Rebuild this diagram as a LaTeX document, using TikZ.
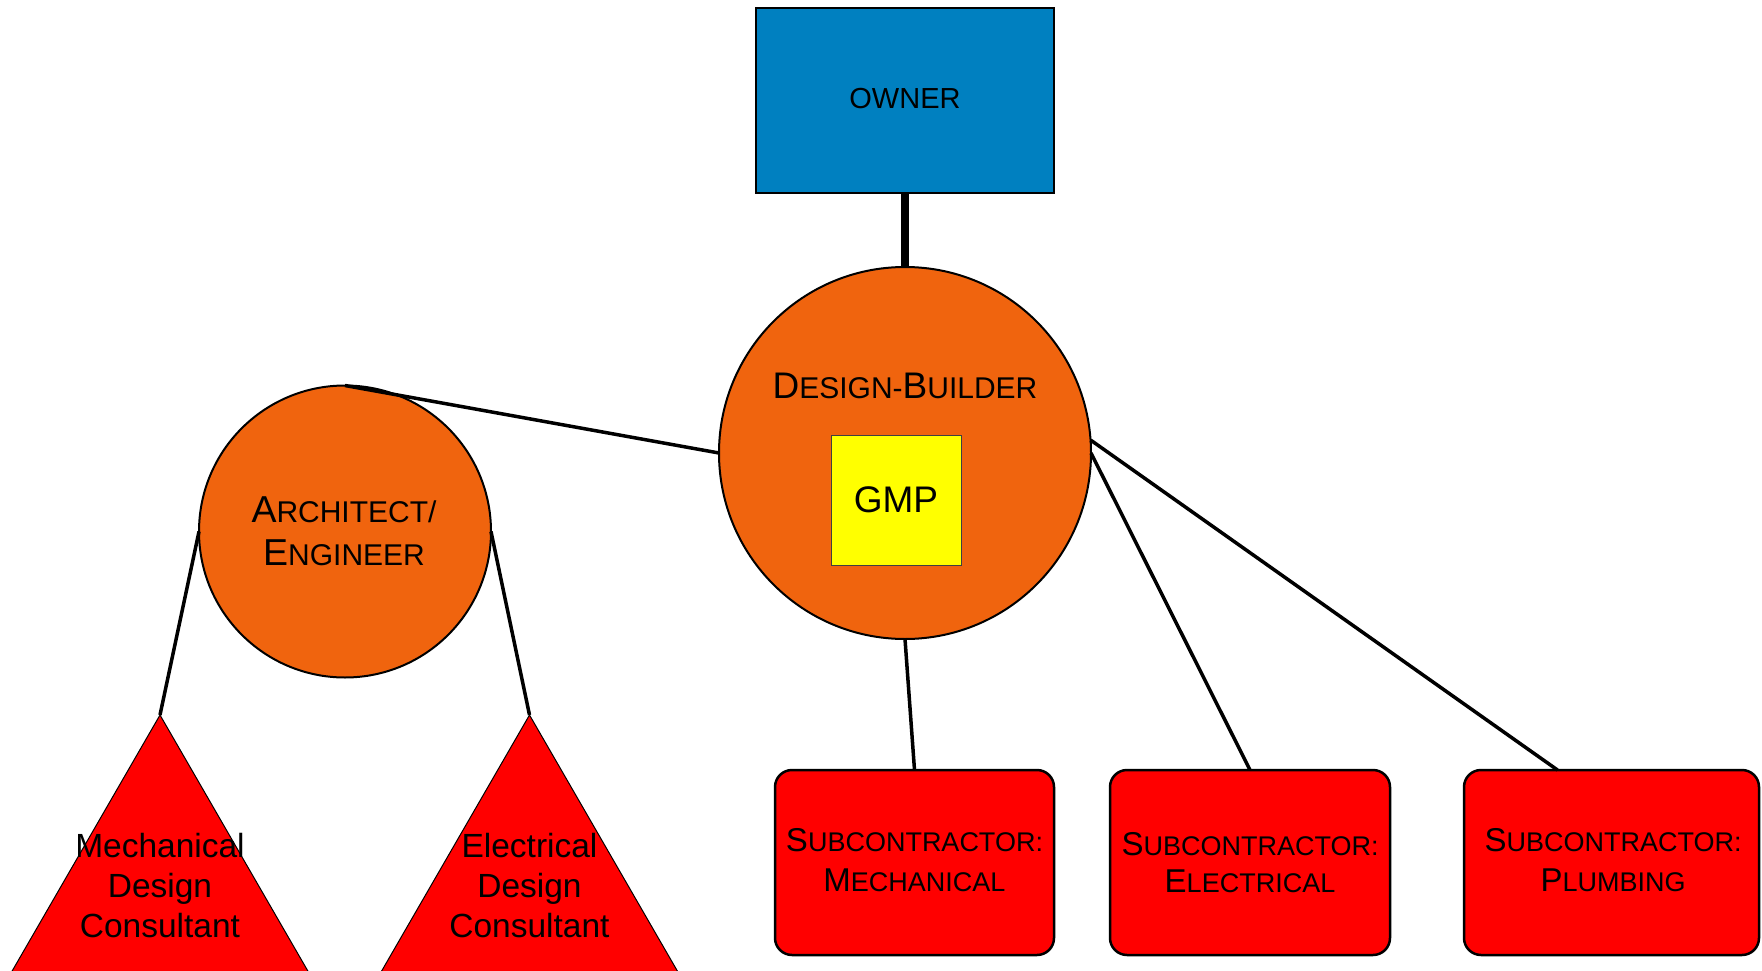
\documentclass[tikz,border=0pt]{standalone}
\usepackage{fontspec}
\setmainfont{Liberation Sans}
\usetikzlibrary{calc}
\definecolor{ownerblue}{RGB}{0,128,192}
\definecolor{dborange}{RGB}{240,100,14}
\definecolor{subred}{RGB}{255,0,0}
\definecolor{gmpyellow}{RGB}{255,255,0}
\newcommand\fsz[1]{\fontsize{#1}{#1}\selectfont}
\newcommand\bigc[2]{{\fsz{#1}#2}}
\begin{document}
\begin{tikzpicture}[x=1pt,y=-1pt,
  shp/.style={inner sep=0pt,outer sep=0pt},
  conn/.style={draw=black,line width=3.5pt},
  lbl/.style={anchor=base,inner sep=0pt,text=black},
  subbox/.style={shp,draw=black,line width=2.5pt,fill=subred,rounded corners=17pt,minimum height=185pt},
  tri/.style={fill=subred,draw=black,line width=1pt}]
\useasboundingbox (0,0) rectangle (1762,971);
\clip (0,0) rectangle (1762,971);
% shapes
\node[shp,draw=black,line width=2pt,fill=ownerblue,minimum width=298pt,minimum height=185pt] (owner) at (905,100.5) {};
\node[shp,circle,draw=black,line width=2pt,fill=dborange,minimum size=372pt] (db) at (905,453) {};
\node[shp,circle,draw=black,line width=2pt,fill=dborange,minimum size=292pt] (arch) at (345,531.5) {};
\node[shp,draw=black!75,line width=1pt,fill=gmpyellow,minimum width=130pt,minimum height=130pt] (gmp) at (896,500) {};
\node[subbox,minimum width=279pt] (msub) at (914.5,862.5) {};
\node[subbox,minimum width=280pt] (esub) at (1250,862.5) {};
\node[subbox,minimum width=295pt] (psub) at (1611.5,862.5) {};
\coordinate (mtri) at (160,715);
\coordinate (etri) at (529.5,715);
\fill[tri] (mtri) -- ++(-186,322) -- ++(372,0) -- cycle;
\fill[tri] (etri) -- ++(-186,322) -- ++(372,0) -- cycle;
\coordinate (pend) at ([xshift=-54pt]psub.north);
% connectors
\draw[line width=8pt] (owner.south) -- (db.north);
\draw[conn] (arch.north) -- (db.west);
\draw[conn] (arch.west) -- (mtri);
\draw[conn] (arch.east) -- (etri);
\draw[conn] (db.south) -- (msub.north);
\draw[conn] (db.east) -- (esub.north);
\draw[conn] (db.4) -- (pend);
% labels
\node[lbl,font=\fsz{29}] (ownert) at (905,109) {OWNER};
\node[lbl,font=\fsz{30}] (dbt) at (905,398) {\bigc{37}{D}ESIGN-\bigc{37}{B}UILDER};
\node[lbl,font=\fsz{37}] (gmpt) at (896,512) {GMP};
\node[lbl,font=\fsz{30}] (archt1) at (344,522) {\bigc{37.5}{A}RCHITECT/};
\node[lbl,font=\fsz{30}] (archt2) at (344,565) {\bigc{37.5}{E}NGINEER};
\node[lbl,font=\fsz{33.5}] (mt1) at (160,857) {Mechanical};
\node[lbl,font=\fsz{33.5}] (mt2) at (160,897) {Design};
\node[lbl,font=\fsz{33.5}] (mt3) at (160,937) {Consultant};
\node[lbl,font=\fsz{33.5}] (et1) at (529.5,857) {Electrical};
\node[lbl,font=\fsz{33.5}] (et2) at (529.5,897) {Design};
\node[lbl,font=\fsz{33.5}] (et3) at (529.5,937) {Consultant};
\node[lbl,font=\fsz{27}] (ms1) at (914.5,851) {\bigc{33}{S}UBCONTRACTOR:};
\node[lbl,font=\fsz{27}] (ms2) at (914.5,891) {\bigc{33}{M}ECHANICAL};
\node[lbl,font=\fsz{27}] (es1) at (1250,855) {\bigc{33}{S}UBCONTRACTOR:};
\node[lbl,font=\fsz{27}] (es2) at (1250,892) {\bigc{33}{E}LECTRICAL};
\node[lbl,font=\fsz{27}] (ps1) at (1613,851) {\bigc{33}{S}UBCONTRACTOR:};
\node[lbl,font=\fsz{27}] (ps2) at (1613,891) {\bigc{33}{P}LUMBING};
\end{tikzpicture}
\end{document}
